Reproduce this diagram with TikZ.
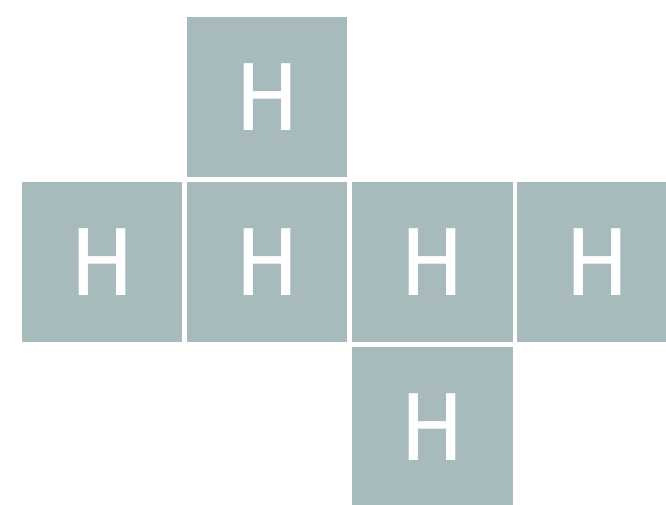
\documentclass[tikz,border=0pt]{standalone}
\usepackage{fontspec}
\setmainfont{Fira Sans}
\definecolor{tile}{RGB}{167,187,188}
\begin{document}
\begin{tikzpicture}[x=1pt,y=-1pt,
  tilebox/.style={fill=tile,draw=none,minimum size=160.5pt,inner sep=0pt,
    text=white,font=\fontsize{97}{97}\selectfont}]
\useasboundingbox (0,0) rectangle (666,504);
\clip (0,0) rectangle (666,504);
\node[tilebox] (t) at (267,97) {H};
\node[tilebox] (l) at (102,262) {H};
\node[tilebox] (c) at (267,262) {H};
\node[tilebox] (d) at (432.3,262) {H};
\node[tilebox] (r) at (597.6,262) {H};
\node[tilebox] (b) at (432.3,427.3) {H};
\end{tikzpicture}
\end{document}
